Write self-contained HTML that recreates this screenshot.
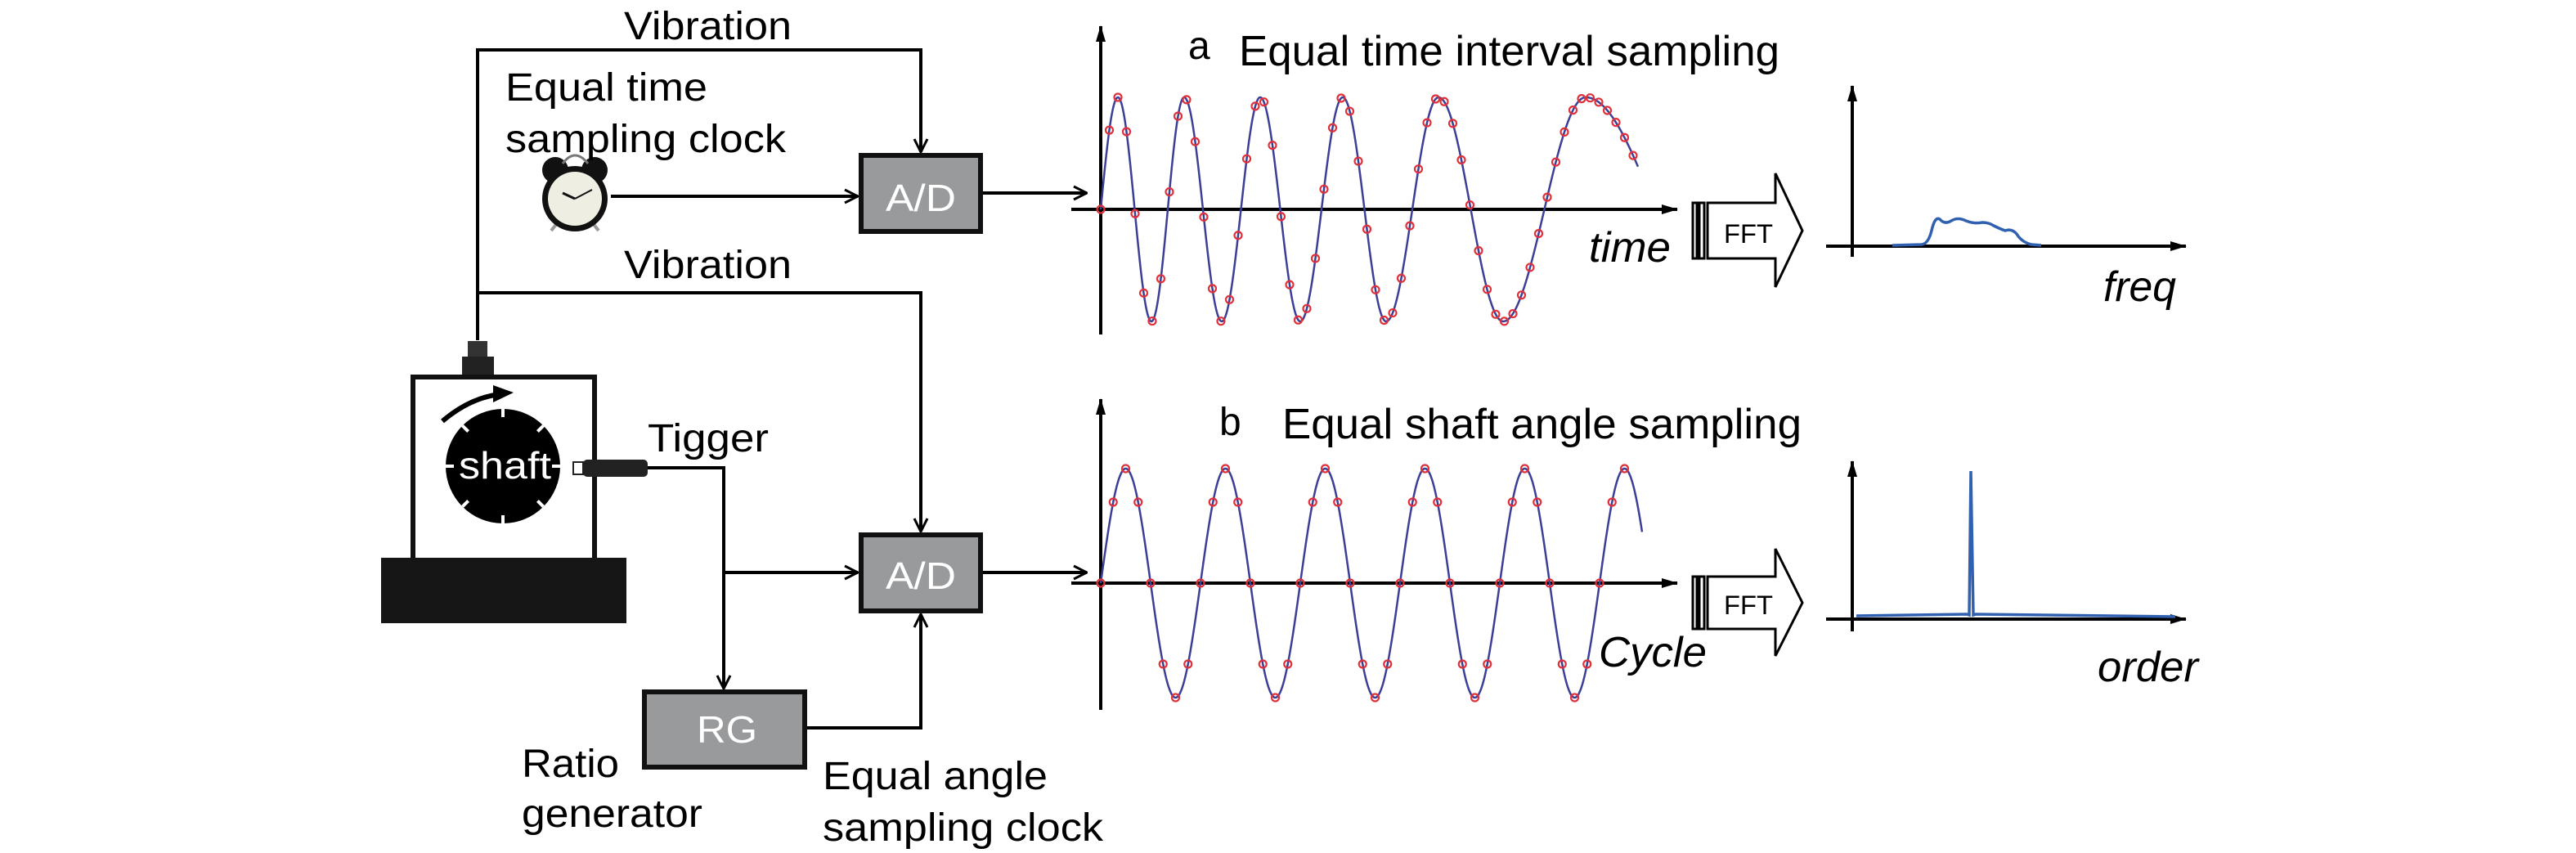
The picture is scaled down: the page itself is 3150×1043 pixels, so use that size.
<!DOCTYPE html>
<html><head><meta charset="utf-8"><style>
html,body{margin:0;padding:0;background:#fff;}
svg{display:block;}
text{font-family:"Liberation Sans",sans-serif;}
</style></head><body>
<svg id="s" width="3150" height="1043" viewBox="0 0 3150 1043" xmlns="http://www.w3.org/2000/svg">
<defs>
<marker id="oa" viewBox="0 0 20 20" refX="19" refY="10" markerWidth="20" markerHeight="20" markerUnits="userSpaceOnUse" orient="auto">
<path d="M3,2 L19,10 L3,18" fill="none" stroke="#000" stroke-width="3"/></marker>
<marker id="fa" viewBox="0 0 20 12" refX="19" refY="6" markerWidth="20" markerHeight="12" markerUnits="userSpaceOnUse" orient="auto">
<path d="M0,0 L20,6 L0,12 Z" fill="#000"/></marker>
</defs>
<g stroke="#000" stroke-width="4" fill="none">
<polyline points="584,416 584,61 1126,61 1126,186" marker-end="url(#oa)"/>
<polyline points="584,358 1126,358 1126,650" marker-end="url(#oa)"/>
<line x1="747" y1="240" x2="1049" y2="240" marker-end="url(#oa)"/>
<line x1="1201" y1="236" x2="1329" y2="236" marker-end="url(#oa)"/>
<line x1="1201" y1="700" x2="1329" y2="700" marker-end="url(#oa)"/>
<polyline points="792,572 885,572 885,842" marker-end="url(#oa)"/>
<line x1="885" y1="700" x2="1049" y2="700" marker-end="url(#oa)"/>
<polyline points="986,890 1126,890 1126,751" marker-end="url(#oa)"/>
</g>
<rect x="1053" y="190" width="146" height="93" fill="#999a9c" stroke="#111" stroke-width="6"/>
<rect x="1053" y="654" width="146" height="93" fill="#999a9c" stroke="#111" stroke-width="6"/>
<rect x="788" y="846" width="196" height="92" fill="#999a9c" stroke="#111" stroke-width="6"/>
<g lengthAdjust="spacingAndGlyphs">
<text x="1083" y="258" font-size="46" fill="#fff" textLength="86" lengthAdjust="spacingAndGlyphs">A/D</text>
<text x="1083" y="720" font-size="46" fill="#fff" textLength="86" lengthAdjust="spacingAndGlyphs">A/D</text>
<text x="852" y="908" font-size="46" fill="#fff" textLength="74" lengthAdjust="spacingAndGlyphs">RG</text>
</g>
<!-- clock -->
<g>
<circle cx="679" cy="208" r="16" fill="#111"/><circle cx="727" cy="208" r="16" fill="#111"/>
<path d="M688,200 Q703,180 719,200" stroke="#777" stroke-width="3" fill="none"/>
<line x1="682" y1="272" x2="674" y2="282" stroke="#999" stroke-width="4"/>
<line x1="724" y1="272" x2="732" y2="282" stroke="#999" stroke-width="4"/>
<circle cx="703" cy="243" r="40" fill="#111"/>
<circle cx="703" cy="243" r="33" fill="#efeee2"/>
<line x1="703" y1="243" x2="688" y2="236" stroke="#111" stroke-width="3"/>
<line x1="703" y1="243" x2="724" y2="232" stroke="#111" stroke-width="2"/>
</g>
<rect x="572" y="417" width="24" height="20" fill="#333"/>
<rect x="565" y="436" width="39" height="24" fill="#222"/>
<rect x="505" y="461" width="222" height="225" fill="#fff" stroke="#111" stroke-width="6"/>
<rect x="466" y="682" width="300" height="80" fill="#161616"/>
<circle cx="615" cy="570" r="70" fill="#000"/>
<g stroke="#fff" stroke-width="4">
<line x1="615" y1="500" x2="615" y2="510"/><line x1="615" y1="630" x2="615" y2="640"/>
<line x1="545" y1="570" x2="555" y2="570"/><line x1="675" y1="570" x2="685" y2="570"/>
<line x1="565.5" y1="520.5" x2="572.6" y2="527.6"/><line x1="664.5" y1="520.5" x2="657.4" y2="527.6"/>
<line x1="565.5" y1="619.5" x2="572.6" y2="612.4"/><line x1="664.5" y1="619.5" x2="657.4" y2="612.4"/>
</g>
<text x="561" y="585" font-size="46" fill="#fff" textLength="113" lengthAdjust="spacingAndGlyphs">shaft</text>
<path d="M541,515 Q575,486 612,482" stroke="#000" stroke-width="6" fill="none"/>
<path d="M603,471 L628,480 L603,492 Z" fill="#000"/>
<rect x="701" y="565" width="12" height="15" fill="#fff" stroke="#222" stroke-width="2"/>
<rect x="713" y="562" width="79" height="21" rx="5" fill="#222"/>
<g font-size="48" fill="#000">
<text x="763" y="48" textLength="205" lengthAdjust="spacingAndGlyphs">Vibration</text>
<text x="618" y="123" textLength="247" lengthAdjust="spacingAndGlyphs">Equal time</text>
<text x="618" y="186" textLength="343" lengthAdjust="spacingAndGlyphs">sampling clock</text>
<text x="763" y="340" textLength="205" lengthAdjust="spacingAndGlyphs">Vibration</text>
<text x="792" y="552" textLength="148" lengthAdjust="spacingAndGlyphs">Tigger</text>
<text x="638" y="950" textLength="119" lengthAdjust="spacingAndGlyphs">Ratio</text>
<text x="638" y="1011" textLength="221" lengthAdjust="spacingAndGlyphs">generator</text>
<text x="1006" y="965" textLength="275" lengthAdjust="spacingAndGlyphs">Equal angle</text>
<text x="1006" y="1028" textLength="343" lengthAdjust="spacingAndGlyphs">sampling clock</text>
</g>
<g stroke="#000" stroke-width="4">
<line x1="1346" y1="409" x2="1346" y2="32" marker-end="url(#fa)"/>
<line x1="1310" y1="256" x2="2051" y2="256" marker-end="url(#fa)"/>
<line x1="1346" y1="868" x2="1346" y2="488" marker-end="url(#fa)"/>
<line x1="1310" y1="713" x2="2051" y2="713" marker-end="url(#fa)"/>
<line x1="2265" y1="314" x2="2265" y2="105" marker-end="url(#fa)"/>
<line x1="2233" y1="301" x2="2673" y2="301" marker-end="url(#fa)"/>
<line x1="2265" y1="772" x2="2265" y2="564" marker-end="url(#fa)"/>
<line x1="2233" y1="757" x2="2673" y2="757" marker-end="url(#fa)"/>
</g>
<g id="waves"></g>
<path d="M2314,300 L2350,299 Q2358,298 2362,282 Q2366,264 2372,268 Q2378,275 2386,270 Q2394,265 2404,270 Q2414,274 2424,272 Q2432,272 2438,276 Q2446,280 2452,282 Q2460,279 2466,286 Q2472,296 2484,299 L2496,300" fill="none" stroke="#3060b0" stroke-width="3.5"/>
<path d="M2270,753 L2405,751 L2408,752 L2410,576 L2413,752 L2416,751 L2660,754" fill="none" stroke="#3060b0" stroke-width="3.5"/>
<g fill="#fff" stroke="#000" stroke-width="3">
<rect x="2070" y="248" width="5" height="68"/><rect x="2078" y="248" width="6" height="68"/>
<path d="M2088,248 L2171,248 L2171,212 L2204,282 L2171,351 L2171,316 L2088,316 Z"/>
<rect x="2070" y="705" width="5" height="64"/><rect x="2078" y="705" width="6" height="64"/>
<path d="M2088,705 L2171,705 L2171,671 L2204,737 L2171,802 L2171,769 L2088,769 Z"/>
</g>
<text x="2108" y="297" font-size="32" textLength="60" lengthAdjust="spacingAndGlyphs">FFT</text>
<text x="2108" y="751" font-size="32" textLength="60" lengthAdjust="spacingAndGlyphs">FFT</text>
<g font-size="52" fill="#000">
<text x="1453" y="72" font-size="48">a</text>
<text x="1515" y="80" textLength="661" lengthAdjust="spacingAndGlyphs">Equal time interval sampling</text>
<text x="1491" y="532" font-size="48">b</text>
<text x="1568" y="536" textLength="635" lengthAdjust="spacingAndGlyphs">Equal shaft angle sampling</text>
<text x="1943" y="320" font-style="italic" textLength="100" lengthAdjust="spacingAndGlyphs">time</text>
<text x="2572" y="368" font-style="italic" textLength="89" lengthAdjust="spacingAndGlyphs">freq</text>
<text x="1955" y="815" font-style="italic" textLength="132" lengthAdjust="spacingAndGlyphs">Cycle</text>
<text x="2565" y="833" font-style="italic" textLength="123" lengthAdjust="spacingAndGlyphs">order</text>
</g>
</svg>
<script>
(function(){
var NS="http://www.w3.org/2000/svg",g=document.getElementById("waves");
var P=Math.PI;
var kx=[0,21,62,102,148,195,244,296,349,413,492,593,657];
var kp=[0,.5*P,1.5*P,2.5*P,3.5*P,4.5*P,5.5*P,6.5*P,7.5*P,8.5*P,9.5*P,10.5*P,10.5*P+1.18];
function ph(r){for(var i=1;i<kx.length;i++){if(r<=kx[i]){var t=(r-kx[i-1])/(kx[i]-kx[i-1]);return kp[i-1]+t*(kp[i]-kp[i-1]);}}return kp[kp.length-1];}
function fa(x){return 256-137*Math.sin(ph(x-1346));}
function fb(x){return 713-140*Math.sin(2*P*(x-1346)/122);}
function path(f,x0,x1){var d="";for(var x=x0;x<=x1;x+=1){d+=(x==x0?"M":"L")+x+","+f(x).toFixed(1);}var p=document.createElementNS(NS,"path");p.setAttribute("d",d);p.setAttribute("fill","none");p.setAttribute("stroke","#3b3f96");p.setAttribute("stroke-width","2.5");g.appendChild(p);}
function dot(x,y){var c=document.createElementNS(NS,"circle");c.setAttribute("cx",x);c.setAttribute("cy",y);c.setAttribute("r","4.5");c.setAttribute("fill","none");c.setAttribute("stroke","#e0303a");c.setAttribute("stroke-width","2.2");g.appendChild(c);}
path(fa,1346,2003);path(fb,1346,2008);
for(var x=1346;x<=2004;x+=10.5)dot(x,fa(x));
for(var x=1346;x<=2000;x+=15.25)dot(x,fb(x));
})();
</script>
</body></html>
